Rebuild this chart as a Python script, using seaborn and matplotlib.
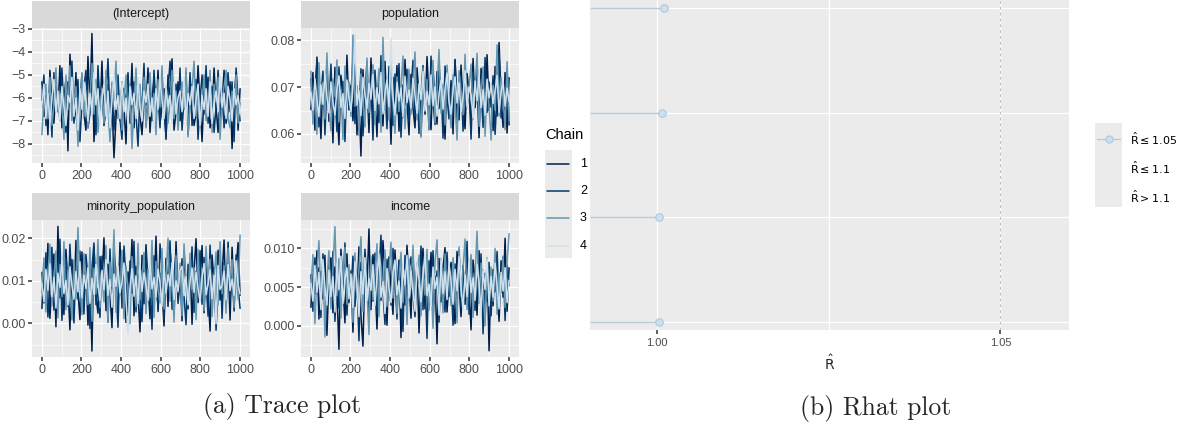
import numpy as np
import pandas as pd
import matplotlib
matplotlib.use("Agg")
import matplotlib.pyplot as plt
from matplotlib.lines import Line2D
from matplotlib.patches import Rectangle
from matplotlib.ticker import MultipleLocator, FormatStrFormatter
import seaborn as sns

# ---- data ------------------------------------------------------------------
# trace draws (thinned to 100 per chain)
iterations = np.linspace(1, 1000, 100)
params = ["(Intercept)", "population", "minority_population", "income"]
chains = ["1", "2", "3", "4"]
chain_colors = ["#011f4b", "#03396c", "#6497b1", "#d1e1ec"]

int_c1 = [-5.3, -6.8, -5.9, -7.6, -4.8, -6.2, -7.1, -5.5, -6.6, -4.6,
          -7.3, -6.0, -5.2, -8.3, -4.1, -5.7, -6.9, -4.9, -7.8, -6.1,
          -5.0, -6.7, -7.4, -4.2, -6.3, -3.2, -7.9, -6.0, -5.1, -6.8,
          -4.4, -7.2, -6.5, -5.4, -7.7, -6.2, -8.6, -6.9, -5.8, -7.0,
          -5.3, -6.4, -8.0, -5.0, -6.6, -4.5, -7.3, -6.1, -5.5, -6.8,
          -7.6, -5.9, -6.3, -4.7, -7.5, -6.0, -5.2, -6.9, -4.8, -7.1,
          -6.4, -5.6, -7.8, -5.0, -6.2, -4.3, -7.4, -6.6, -5.3, -7.0,
          -5.8, -6.5, -4.9, -7.6, -6.1, -5.4, -7.2, -6.7, -4.6, -6.3,
          -7.9, -5.7, -6.0, -5.1, -7.3, -6.8, -4.7, -6.4, -7.5, -5.5,
          -6.2, -4.8, -7.1, -6.6, -5.3, -8.2, -6.0, -4.9, -7.4, -5.6]
int_c2 = [-6.1, -5.0, -7.2, -6.4, -5.6, -7.7, -4.9, -6.3, -5.8, -7.0,
          -4.7, -6.6, -7.5, -5.3, -6.0, -4.4, -7.1, -6.5, -5.2, -7.9,
          -6.2, -5.5, -4.8, -7.3, -6.7, -5.1, -6.0, -7.6, -4.6, -6.4,
          -5.7, -7.0, -6.1, -4.3, -6.8, -5.4, -7.4, -6.2, -5.0, -6.9,
          -7.8, -5.6, -6.3, -4.9, -7.1, -6.0, -5.3, -6.7, -8.1, -5.8,
          -6.5, -4.5, -7.2, -6.1, -5.5, -7.0, -4.8, -6.4, -5.9, -7.3,
          -5.1, -6.6, -7.7, -5.7, -4.4, -6.2, -7.0, -5.4, -6.8, -4.7,
          -7.4, -6.0, -5.6, -6.9, -4.9, -7.2, -6.3, -5.2, -7.8, -6.1,
          -5.0, -6.7, -4.6, -7.1, -6.0, -5.5, -7.5, -6.4, -4.8, -6.9,
          -5.8, -7.3, -6.2, -4.9, -6.6, -5.3, -7.9, -4.7, -6.1, -7.0]
int_c3 = [-7.6, -6.0, -5.4, -6.9, -5.1, -7.2, -6.3, -4.7, -6.6, -5.8,
          -6.2, -7.8, -5.0, -6.5, -4.6, -7.0, -6.1, -5.5, -8.1, -6.4,
          -4.9, -6.8, -5.7, -7.3, -6.0, -4.5, -6.7, -5.2, -7.5, -6.3,
          -5.6, -7.1, -4.8, -6.4, -7.9, -5.3, -6.1, -4.4, -6.9, -5.9,
          -7.4, -6.2, -5.0, -6.8, -5.6, -8.2, -6.3, -4.7, -6.5, -5.4,
          -6.9, -5.1, -7.3, -6.0, -4.9, -6.6, -5.8, -7.6, -5.2, -6.4,
          -4.6, -6.8, -5.5, -7.1, -6.2, -4.8, -6.9, -5.7, -7.4, -6.0,
          -5.3, -6.5, -4.7, -7.7, -6.1, -5.6, -4.4, -6.8, -5.9, -7.2,
          -6.3, -5.0, -7.0, -6.6, -4.8, -7.5, -5.4, -6.2, -5.1, -7.8,
          -6.0, -5.5, -4.8, -6.9, -7.3, -5.7, -6.4, -5.0, -7.1, -6.2]
int_c4 = [-6.3, -5.4, -6.9, -5.8, -7.1, -6.0, -5.2, -6.6, -5.7, -7.0,
          -5.5, -6.4, -7.2, -5.9, -6.2, -5.1, -6.8, -6.0, -7.4, -5.6,
          -6.5, -5.3, -6.1, -7.0, -5.8, -6.7, -4.9, -6.3, -5.6, -7.1,
          -6.0, -5.4, -6.8, -5.7, -7.3, -6.1, -5.0, -6.5, -5.9, -6.9,
          -5.3, -6.6, -6.0, -7.2, -5.5, -6.3, -5.8, -6.9, -5.2, -6.4,
          -7.0, -5.7, -6.2, -5.4, -6.8, -6.0, -7.3, -5.6, -6.5, -5.1,
          -6.1, -6.9, -5.5, -6.4, -5.9, -7.1, -5.3, -6.7, -6.0, -5.7,
          -6.6, -5.2, -7.0, -5.8, -6.3, -5.5, -6.9, -6.1, -5.4, -7.2,
          -5.9, -6.5, -5.6, -6.8, -5.3, -7.1, -6.2, -5.7, -6.6, -5.0,
          -6.4, -5.8, -6.9, -5.5, -6.1, -7.0, -5.6, -6.3, -5.9, -6.7]

pop_c1 = [0.0652, 0.0731, 0.0608, 0.0764, 0.0679, 0.0590, 0.0718, 0.0645, 0.0753, 0.0627,
          0.0699, 0.0581, 0.0742, 0.0661, 0.0577, 0.0725, 0.0690, 0.0612, 0.0768, 0.0653,
          0.0704, 0.0628, 0.0749, 0.0598, 0.0676, 0.0553, 0.0737, 0.0659, 0.0715, 0.0603,
          0.0762, 0.0640, 0.0688, 0.0594, 0.0730, 0.0671, 0.0617, 0.0755, 0.0649, 0.0708,
          0.0578, 0.0721, 0.0663, 0.0746, 0.0606, 0.0694, 0.0635, 0.0759, 0.0670, 0.0598,
          0.0727, 0.0655, 0.0613, 0.0741, 0.0684, 0.0596, 0.0719, 0.0642, 0.0765, 0.0668,
          0.0609, 0.0736, 0.0677, 0.0621, 0.0752, 0.0658, 0.0702, 0.0589, 0.0733, 0.0646,
          0.0714, 0.0600, 0.0758, 0.0673, 0.0630, 0.0747, 0.0665, 0.0611, 0.0729, 0.0692,
          0.0625, 0.0761, 0.0656, 0.0707, 0.0592, 0.0740, 0.0683, 0.0619, 0.0769, 0.0650,
          0.0696, 0.0607, 0.0744, 0.0638, 0.0795, 0.0674, 0.0614, 0.0731, 0.0602, 0.0720]
pop_c2 = [0.0718, 0.0640, 0.0695, 0.0756, 0.0615, 0.0682, 0.0734, 0.0598, 0.0707, 0.0661,
          0.0749, 0.0628, 0.0690, 0.0605, 0.0743, 0.0667, 0.0712, 0.0584, 0.0726, 0.0651,
          0.0688, 0.0760, 0.0622, 0.0701, 0.0647, 0.0739, 0.0596, 0.0680, 0.0754, 0.0633,
          0.0710, 0.0587, 0.0736, 0.0664, 0.0624, 0.0767, 0.0655, 0.0697, 0.0611, 0.0744,
          0.0673, 0.0618, 0.0728, 0.0643, 0.0750, 0.0593, 0.0705, 0.0662, 0.0738, 0.0626,
          0.0691, 0.0757, 0.0637, 0.0714, 0.0601, 0.0685, 0.0746, 0.0648, 0.0720, 0.0610,
          0.0766, 0.0669, 0.0620, 0.0733, 0.0654, 0.0708, 0.0591, 0.0745, 0.0678, 0.0632,
          0.0701, 0.0644, 0.0759, 0.0616, 0.0687, 0.0722, 0.0606, 0.0740, 0.0660, 0.0698,
          0.0589, 0.0731, 0.0671, 0.0752, 0.0636, 0.0693, 0.0614, 0.0763, 0.0646, 0.0711,
          0.0657, 0.0724, 0.0599, 0.0686, 0.0773, 0.0634, 0.0706, 0.0650, 0.0739, 0.0619]
pop_c3 = [0.0734, 0.0621, 0.0689, 0.0599, 0.0752, 0.0664, 0.0710, 0.0632, 0.0773, 0.0656,
          0.0607, 0.0717, 0.0680, 0.0758, 0.0626, 0.0694, 0.0588, 0.0745, 0.0668, 0.0711,
          0.0637, 0.0811, 0.0659, 0.0703, 0.0597, 0.0728, 0.0670, 0.0615, 0.0762, 0.0646,
          0.0693, 0.0748, 0.0620, 0.0683, 0.0739, 0.0604, 0.0806, 0.0652, 0.0715, 0.0629,
          0.0760, 0.0666, 0.0601, 0.0722, 0.0648, 0.0697, 0.0766, 0.0611, 0.0685, 0.0738,
          0.0642, 0.0709, 0.0775, 0.0630, 0.0679, 0.0593, 0.0741, 0.0663, 0.0716, 0.0608,
          0.0698, 0.0757, 0.0624, 0.0690, 0.0780, 0.0645, 0.0706, 0.0619, 0.0747, 0.0672,
          0.0613, 0.0726, 0.0668, 0.0587, 0.0735, 0.0692, 0.0641, 0.0770, 0.0657, 0.0702,
          0.0749, 0.0631, 0.0695, 0.0772, 0.0616, 0.0681, 0.0743, 0.0595, 0.0713, 0.0660,
          0.0587, 0.0704, 0.0651, 0.0790, 0.0638, 0.0721, 0.0677, 0.0609, 0.0754, 0.0628]
pop_c4 = [0.0689, 0.0651, 0.0718, 0.0672, 0.0637, 0.0705, 0.0663, 0.0729, 0.0680, 0.0645,
          0.0711, 0.0668, 0.0640, 0.0697, 0.0724, 0.0657, 0.0686, 0.0633, 0.0715, 0.0676,
          0.0648, 0.0702, 0.0813, 0.0661, 0.0692, 0.0639, 0.0721, 0.0683, 0.0654, 0.0708,
          0.0674, 0.0727, 0.0650, 0.0699, 0.0664, 0.0731, 0.0643, 0.0687, 0.0716, 0.0658,
          0.0804, 0.0678, 0.0641, 0.0710, 0.0670, 0.0698, 0.0636, 0.0723, 0.0667, 0.0694,
          0.0655, 0.0719, 0.0682, 0.0644, 0.0707, 0.0673, 0.0733, 0.0649, 0.0691, 0.0662,
          0.0726, 0.0660, 0.0701, 0.0638, 0.0685, 0.0714, 0.0653, 0.0696, 0.0730, 0.0669,
          0.0642, 0.0693, 0.0722, 0.0666, 0.0709, 0.0647, 0.0679, 0.0735, 0.0658, 0.0700,
          0.0684, 0.0634, 0.0713, 0.0671, 0.0728, 0.0656, 0.0695, 0.0640, 0.0717, 0.0677,
          0.0703, 0.0665, 0.0692, 0.0725, 0.0646, 0.0688, 0.0712, 0.0659, 0.0698, 0.0670]

min_c1 = [0.0035, 0.0142, 0.0071, 0.0188, 0.0012, 0.0105, 0.0163, -0.0008, 0.0228, 0.0060,
          0.0127, 0.0021, 0.0174, 0.0089, -0.0015, 0.0150, 0.0043, 0.0195, 0.0077, 0.0009,
          0.0168, 0.0052, 0.0136, -0.0004, 0.0110, -0.0065, 0.0181, 0.0065, 0.0024, 0.0157,
          0.0098, 0.0201, 0.0030, 0.0139, 0.0072, -0.0010, 0.0176, 0.0115, 0.0038, 0.0190,
          0.0056, 0.0148, 0.0002, 0.0121, 0.0084, 0.0197, 0.0018, 0.0134, 0.0069, -0.0020,
          0.0160, 0.0046, 0.0185, 0.0094, 0.0011, 0.0140, 0.0063, 0.0205, 0.0028, 0.0118,
          0.0081, -0.0006, 0.0153, 0.0040, 0.0178, 0.0101, 0.0016, 0.0192, 0.0058, 0.0130,
          0.0006, 0.0169, 0.0087, 0.0034, 0.0146, -0.0002, 0.0124, 0.0199, 0.0049, 0.0108,
          0.0183, 0.0025, 0.0137, 0.0074, -0.0018, 0.0161, 0.0092, 0.0013, 0.0172, 0.0055,
          0.0113, 0.0196, 0.0037, 0.0144, 0.0008, 0.0179, 0.0068, 0.0125, 0.0190, 0.0066]
min_c2 = [0.0120, 0.0048, 0.0166, 0.0015, 0.0093, 0.0179, 0.0031, 0.0137, 0.0062, 0.0198,
          0.0007, 0.0112, 0.0154, 0.0040, 0.0186, 0.0079, 0.0001, 0.0145, 0.0057, 0.0170,
          0.0096, 0.0022, 0.0162, 0.0108, -0.0012, 0.0131, 0.0189, 0.0044, 0.0083, 0.0014,
          0.0158, 0.0067, 0.0119, 0.0003, 0.0175, 0.0050, 0.0141, 0.0090, -0.0009, 0.0163,
          0.0036, 0.0182, 0.0104, 0.0019, 0.0147, 0.0071, 0.0193, 0.0027, 0.0115, 0.0061,
          0.0004, 0.0133, 0.0173, 0.0053, 0.0100, -0.0014, 0.0159, 0.0085, 0.0039, 0.0187,
          0.0126, 0.0010, 0.0148, 0.0075, 0.0194, 0.0033, 0.0111, 0.0167, 0.0047, 0.0097,
          0.0152, 0.0064, -0.0003, 0.0139, 0.0088, 0.0180, 0.0026, 0.0122, 0.0059, 0.0171,
          0.0045, 0.0155, 0.0102, 0.0017, 0.0184, 0.0070, 0.0132, -0.0016, 0.0091, 0.0164,
          0.0012, 0.0143, 0.0078, 0.0191, 0.0054, 0.0117, 0.0029, 0.0161, 0.0086, 0.0035]
min_c3 = [0.0072, 0.0154, 0.0027, 0.0117, 0.0186, 0.0041, 0.0099, 0.0170, 0.0013, 0.0138,
          0.0063, 0.0192, 0.0032, 0.0126, 0.0080, 0.0008, 0.0149, 0.0058, 0.0225, 0.0095,
          0.0020, 0.0164, 0.0107, 0.0044, 0.0178, 0.0005, 0.0130, 0.0069, 0.0197, 0.0037,
          0.0113, 0.0050, 0.0183, 0.0002, 0.0144, 0.0087, 0.0220, 0.0026, 0.0121, 0.0066,
          0.0172, 0.0011, 0.0135, 0.0076, -0.0001, 0.0157, 0.0093, 0.0039, 0.0188, 0.0055,
          0.0103, 0.0167, 0.0023, 0.0128, 0.0061, 0.0195, 0.0014, 0.0146, 0.0082, 0.0048,
          0.0176, 0.0034, 0.0109, 0.0200, 0.0052, 0.0123, 0.0003, 0.0159, 0.0073, 0.0141,
          0.0018, 0.0187, 0.0097, 0.0042, 0.0165, 0.0079, 0.0131, 0.0009, 0.0174, 0.0060,
          0.0129, 0.0030, 0.0181, 0.0089, 0.0151, 0.0016, 0.0106, 0.0168, 0.0043, 0.0192,
          0.0070, 0.0136, 0.0024, 0.0177, 0.0084, 0.0150, 0.0038, 0.0118, 0.0057, 0.0208]
min_c4 = [0.0094, 0.0051, 0.0127, 0.0078, 0.0140, 0.0063, 0.0109, 0.0036, 0.0118, 0.0085,
          0.0148, 0.0070, 0.0101, 0.0043, 0.0133, 0.0089, 0.0057, 0.0122, 0.0074, 0.0145,
          0.0060, 0.0114, 0.0082, 0.0131, 0.0047, 0.0106, 0.0068, 0.0139, 0.0092, 0.0054,
          0.0125, 0.0079, 0.0150, 0.0066, 0.0103, 0.0038, 0.0116, 0.0087, 0.0135, 0.0072,
          0.0098, 0.0142, 0.0059, -0.0025, 0.0084, 0.0129, 0.0064, 0.0112, 0.0046, 0.0137,
          0.0075, 0.0119, 0.0090, 0.0053, 0.0146, 0.0081, 0.0108, 0.0061, 0.0128, 0.0095,
          0.0040, 0.0132, 0.0071, 0.0115, 0.0088, 0.0143, 0.0056, 0.0100, 0.0076, 0.0124,
          0.0134, 0.0065, 0.0110, 0.0045, 0.0097, 0.0130, 0.0073, 0.0120, 0.0083, 0.0050,
          0.0106, 0.0141, 0.0067, 0.0093, 0.0126, 0.0058, 0.0113, -0.0001, 0.0136, 0.0080,
          0.0089, 0.0123, 0.0055, 0.0138, 0.0077, 0.0104, 0.0066, 0.0147, 0.0091, 0.0069]

inc_c1 = [0.0024, 0.0083, 0.0041, 0.0097, 0.0009, 0.0070, 0.0035, 0.0091, -0.0012, 0.0062,
          0.0088, 0.0017, 0.0076, 0.0045, -0.0030, 0.0099, 0.0052, 0.0004, 0.0093, 0.0030,
          0.0071, -0.0008, 0.0086, 0.0038, 0.0102, 0.0013, -0.0026, 0.0080, 0.0047, 0.0125,
          0.0021, 0.0092, 0.0058, -0.0004, 0.0079, 0.0033, 0.0110, 0.0066, 0.0001, 0.0089,
          0.0050, 0.0015, 0.0098, 0.0040, 0.0085, -0.0015, 0.0073, 0.0027, 0.0104, 0.0056,
          0.0010, 0.0090, 0.0036, 0.0081, -0.0009, 0.0068, 0.0100, 0.0022, 0.0077, 0.0043,
          0.0095, 0.0007, 0.0064, -0.0023, 0.0087, 0.0031, 0.0074, 0.0101, 0.0018, 0.0059,
          0.0082, 0.0039, 0.0003, 0.0096, 0.0053, 0.0012, 0.0078, 0.0028, 0.0092, 0.0046,
          -0.0005, 0.0085, 0.0060, 0.0014, 0.0097, 0.0034, 0.0072, 0.0008, 0.0088, -0.0032,
          0.0069, 0.0026, 0.0091, 0.0049, 0.0006, 0.0084, 0.0037, 0.0113, 0.0019, 0.0075]
inc_c2 = [0.0066, 0.0019, 0.0088, 0.0042, 0.0075, 0.0011, 0.0093, 0.0054, 0.0028, 0.0081,
          0.0035, 0.0096, 0.0006, 0.0067, 0.0023, 0.0085, 0.0048, 0.0107, 0.0014, 0.0072,
          0.0044, 0.0090, 0.0025, 0.0063, -0.0019, 0.0082, 0.0039, 0.0099, 0.0057, 0.0008,
          0.0079, 0.0032, 0.0094, 0.0016, 0.0069, 0.0117, 0.0043, 0.0002, 0.0086, 0.0051,
          0.0027, 0.0100, 0.0061, 0.0009, 0.0083, 0.0046, -0.0007, 0.0091, 0.0034, 0.0074,
          0.0089, 0.0040, 0.0012, 0.0077, 0.0055, 0.0103, 0.0021, 0.0065, -0.0016, 0.0084,
          0.0047, 0.0097, 0.0029, 0.0071, 0.0005, 0.0087, 0.0052, 0.0018, 0.0095, 0.0038,
          0.0063, 0.0001, 0.0080, 0.0045, 0.0098, 0.0024, 0.0070, 0.0036, 0.0109, 0.0015,
          0.0087, 0.0050, 0.0020, 0.0076, 0.0041, 0.0093, -0.0010, 0.0068, 0.0031, 0.0082,
          0.0013, 0.0073, 0.0044, 0.0096, 0.0026, 0.0061, 0.0089, 0.0007, 0.0078, 0.0052]
inc_c3 = [0.0045, 0.0092, 0.0003, 0.0070, 0.0110, 0.0031, 0.0081, -0.0014, 0.0060, 0.0097,
          0.0022, 0.0075, 0.0128, 0.0039, 0.0087, 0.0010, 0.0064, 0.0101, 0.0028, 0.0079,
          0.0054, 0.0005, 0.0094, 0.0037, 0.0073, 0.0115, 0.0019, 0.0084, 0.0048, -0.0011,
          0.0090, 0.0034, 0.0067, 0.0106, 0.0012, 0.0078, 0.0042, 0.0098, 0.0025, 0.0071,
          0.0108, 0.0036, 0.0080, 0.0016, 0.0059, 0.0095, 0.0030, 0.0072, 0.0002, 0.0086,
          0.0049, 0.0104, 0.0023, 0.0066, 0.0091, 0.0013, 0.0076, 0.0040, 0.0099, 0.0020,
          0.0062, -0.0003, 0.0083, 0.0111, 0.0033, 0.0070, 0.0017, 0.0093, 0.0044, 0.0079,
          0.0026, 0.0088, 0.0055, 0.0004, 0.0102, 0.0038, 0.0074, 0.0112, 0.0021, 0.0067,
          0.0092, 0.0011, 0.0063, 0.0122, 0.0029, 0.0081, 0.0047, 0.0000, 0.0085, 0.0035,
          0.0076, 0.0032, 0.0100, 0.0015, 0.0068, 0.0043, 0.0090, 0.0024, 0.0083, 0.0119]
inc_c4 = [0.0055, 0.0032, 0.0078, 0.0043, 0.0069, 0.0021, 0.0086, 0.0050, 0.0027, 0.0072,
          0.0038, 0.0064, 0.0018, 0.0081, 0.0047, 0.0090, 0.0029, 0.0059, 0.0075, 0.0035,
          0.0067, 0.0024, 0.0083, 0.0052, 0.0012, 0.0070, 0.0041, 0.0088, 0.0033, 0.0061,
          0.0046, 0.0079, 0.0026, 0.0065, 0.0093, 0.0037, 0.0057, 0.0016, 0.0074, 0.0049,
          0.0030, 0.0068, 0.0085, 0.0040, 0.0058, 0.0023, 0.0077, 0.0053, 0.0091, 0.0036,
          0.0071, 0.0044, 0.0019, 0.0082, 0.0060, 0.0031, 0.0066, 0.0095, 0.0039, 0.0054,
          0.0025, 0.0076, 0.0048, 0.0063, 0.0014, 0.0087, 0.0042, 0.0070, 0.0034, 0.0080,
          0.0058, 0.0028, 0.0073, 0.0045, 0.0089, 0.0051, 0.0020, 0.0066, 0.0038, 0.0084,
          0.0043, 0.0062, 0.0033, 0.0079, 0.0056, 0.0017, 0.0072, 0.0047, 0.0088, 0.0026,
          0.0064, 0.0037, 0.0081, 0.0052, 0.0022, 0.0069, 0.0045, 0.0075, 0.0030, 0.0059]

trace_draws = {
    "(Intercept)": [int_c1, int_c2, int_c3, int_c4],
    "population": [pop_c1, pop_c2, pop_c3, pop_c4],
    "minority_population": [min_c1, min_c2, min_c3, min_c4],
    "income": [inc_c1, inc_c2, inc_c3, inc_c4],
}

# Rhat per parameter (top to bottom)
rhat_params = ["(Intercept)", "population", "minority_population", "income"]
rhat_values = [1.0010, 1.0007, 1.0003, 1.0002]
rhat_labels = [r"$\hat{\mathrm{R}} \leq 1.05$", r"$\hat{\mathrm{R}} \leq 1.1$", r"$\hat{\mathrm{R}} > 1.1$"]

# ---- style -----------------------------------------------------------------
sns.set_theme(style="darkgrid", rc={
    "axes.facecolor": "#EBEBEB",
    "grid.color": "white",
    "grid.linewidth": 0.9,
    "xtick.bottom": True,
    "ytick.left": True,
    "xtick.labelcolor": "#4D4D4D",
    "ytick.labelcolor": "#4D4D4D",
})
plt.rcParams["font.family"] = ["Liberation Sans", "DejaVu Sans"]

W, H = 1193, 425
fig = plt.figure(figsize=(W / 100, H / 100), dpi=100)


def px_axes(x0, y0, x1, y1):
    # axes from pixel box (top-left origin)
    return fig.add_axes([x0 / W, 1 - y1 / H, (x1 - x0) / W, (y1 - y0) / H])


def gg_ticks(ax, size):
    ax.tick_params(which="major", length=3.2, width=1.1, color="#333333",
                   labelcolor="#4D4D4D", labelsize=size, pad=1.5,
                   bottom=True, left=True, direction="out")
    ax.tick_params(which="minor", length=0, width=0)


long_rows = []
for p in params:
    for ch, vals in zip(chains, trace_draws[p]):
        for it, v in zip(iterations, vals):
            long_rows.append((p, ch, it, v))
trace_df = pd.DataFrame(long_rows, columns=["param", "chain", "iteration", "value"])

panel_boxes = {
    "(Intercept)": (32, 28, 250, 163),
    "population": (301, 28, 519, 163),
    "minority_population": (32, 220, 250, 357),
    "income": (301, 220, 519, 357),
}
ylims = {
    "(Intercept)": (-8.83, -2.96),
    "population": (0.0538, 0.0826),
    "minority_population": (-0.0079, 0.0243),
    "income": (-0.0040, 0.01366),
}
ysteps = {"(Intercept)": 1, "population": 0.01, "minority_population": 0.01, "income": 0.005}
yfmt = {"population": "%.2f", "minority_population": "%.2f", "income": "%.3f"}

for p in params:
    x0, y0, x1, y1 = panel_boxes[p]
    ax = px_axes(x0, y0, x1, y1)
    sub = trace_df[trace_df["param"] == p]
    sns.lineplot(data=sub, x="iteration", y="value", hue="chain", hue_order=chains,
                 palette=chain_colors, estimator=None, sort=False, lw=1.1,
                 legend=False, ax=ax)
    ax.set_xlim(-49, 1050)
    ax.set_ylim(*ylims[p])
    ax.xaxis.set_major_locator(MultipleLocator(200))
    ax.xaxis.set_minor_locator(MultipleLocator(100))
    ax.yaxis.set_major_locator(MultipleLocator(ysteps[p]))
    ax.yaxis.set_minor_locator(MultipleLocator(ysteps[p] / 2))
    if p in yfmt:
        ax.yaxis.set_major_formatter(FormatStrFormatter(yfmt[p]))
    ax.grid(which="minor", color="white", lw=0.45)
    ax.grid(which="major", color="white", lw=0.9)
    gg_ticks(ax, 9)
    ax.set_xlabel("")
    ax.set_ylabel("")
    for s in ax.spines.values():
        s.set_visible(False)
    # facet strip
    st = px_axes(x0, y0 - 27, x1, y0)
    st.set_facecolor("#D9D9D9")
    st.set_xticks([])
    st.set_yticks([])
    st.grid(False)
    for s in st.spines.values():
        s.set_visible(False)
    st.text(0.5, 0.5, p, ha="center", va="center", fontsize=9, color="#1A1A1A",
            transform=st.transAxes)

# chain legend (ggplot style)
fig.text(545 / W, 1 - 135 / H, "Chain", fontsize=10.5, color="black", va="center")
fig.add_artist(Rectangle((545 / W, 1 - 258 / H), 27 / W, 108 / H, transform=fig.transFigure,
                         facecolor="#EBEBEB", edgecolor="none"))
for i, (ch, col) in enumerate(zip(chains, chain_colors)):
    yy = 1 - (164 + 27.2 * i) / H
    fig.add_artist(Line2D([547 / W, 569 / W], [yy, yy], transform=fig.transFigure,
                          color=col, lw=1.1))
    fig.text(580 / W, yy, ch, fontsize=9, va="center", color="black")

# ---- Rhat plot -------------------------------------------------------------
axr = px_axes(590, 0, 1069, 330)
rhat_pos = np.arange(len(rhat_params))
axr.set_xlim(0.9902, 1.0600)
axr.set_ylim(len(rhat_params) - 1 + 0.077, -0.077)
axr.hlines(rhat_pos, axr.get_xlim()[0], rhat_values, color="#b3cde0", lw=1.0, zorder=3)
sns.scatterplot(x=rhat_values, y=rhat_pos, s=28, color="#d1e1ec", edgecolor="#b3cde0",
                linewidth=1.0, zorder=4, ax=axr)
axr.axvline(1.05, color="#BDBDBD", lw=0.7, ls=(0, (3, 3)), zorder=2)
axr.set_xticks([1.00, 1.05])
axr.set_xticklabels(["1.00", "1.05"])
axr.xaxis.set_minor_locator(MultipleLocator(0.025))
axr.grid(which="minor", axis="x", color="white", lw=0.9)
axr.set_yticks(rhat_pos)
axr.set_yticklabels([])
gg_ticks(axr, 8)
axr.tick_params(axis="y", length=0)
axr.tick_params(axis="x", which="major", pad=2.5)
axr.set_xlabel(r"$\hat{\mathrm{R}}$", fontsize=10, labelpad=4)
for s in axr.spines.values():
    s.set_visible(False)

# Rhat legend
fig.add_artist(Rectangle((1095 / W, 1 - 207 / H), 27 / W, 84 / H, transform=fig.transFigure,
                         facecolor="#EBEBEB", edgecolor="none"))
fig.add_artist(Line2D([1097 / W, 1120 / W], [1 - 139 / H, 1 - 139 / H], transform=fig.transFigure,
                      color="#b3cde0", lw=1.0))
fig.add_artist(Line2D([1108.5 / W], [1 - 139 / H], transform=fig.transFigure, marker="o",
                      ms=5, mfc="#d1e1ec", mec="#b3cde0", mew=1.0, lw=0))
for i, lab in enumerate(rhat_labels):
    fig.text(1130 / W, 1 - (139 + 29 * i) / H, lab, fontsize=8, va="center", color="black")

# captions
fig.text(282 / W, 1 - 407 / H, "(a) Trace plot", family="cmr10", fontsize=18.5,
         ha="center", va="center")
fig.text(876 / W, 1 - 408 / H, "(b) Rhat plot", family="cmr10", fontsize=18.5,
         ha="center", va="center")

fig.savefig("out.png", dpi=100)
